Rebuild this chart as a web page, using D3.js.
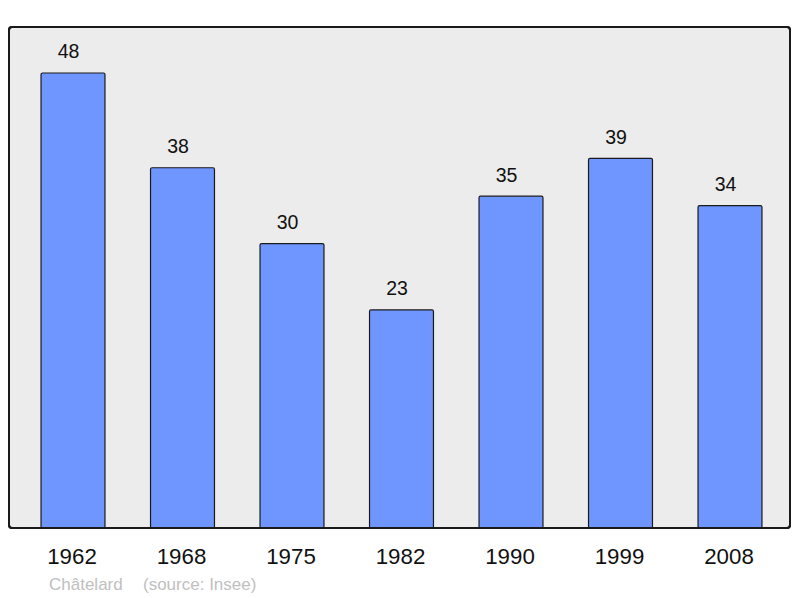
<!DOCTYPE html>
<html><head><meta charset="utf-8">
<script src="https://cdn.jsdelivr.net/npm/d3@7"></script>
<style>body{margin:0;background:#fff}svg{display:block}</style>
</head><body>
<script>
const years = ["1962","1968","1975","1982","1990","1999","2008"];
const population = [48,38,30,23,35,39,34];
const townName = "Châtelard";
const sourceText = "(source: Insee)";

const W = 800, H = 598;
const svg = d3.select("body").append("svg").attr("width", W).attr("height", H);
const FONT = "Liberation Sans, Arial, sans-serif";

const panel = {x: 9, y: 27, w: 781, h: 501};
svg.append("rect").attr("x", panel.x).attr("y", panel.y).attr("width", panel.w).attr("height", panel.h)
  .attr("rx", 3).attr("fill", "#ececec").attr("stroke", "#1a1a1a").attr("stroke-width", 2);

const x = d3.scaleBand().domain(years).range([18.25, 784.75]).paddingInner(0.416).paddingOuter(0.208);
const y = d3.scaleLinear().domain([0, 52.85]).range([528, 27]);

const data = years.map((yr, i) => ({yr, v: population[i]}));

svg.selectAll("rect.bar").data(data).enter().append("rect").attr("class", "bar")
  .attr("x", d => x(d.yr)).attr("y", d => y(d.v))
  .attr("width", x.bandwidth()).attr("height", d => y(0) - y(d.v))
  .attr("rx", 1.5)
  .attr("fill", "#6f96ff").attr("stroke", "#1a1a1a").attr("stroke-width", 1.2);

svg.selectAll("text.val").data(data).enter().append("text").attr("class", "val")
  .attr("x", d => x(d.yr) + x.bandwidth() / 2 - 4.5).attr("y", d => y(d.v) - 14.5)
  .attr("text-anchor", "middle").attr("font-family", FONT)
  .attr("font-size", 19.5).attr("fill", "#111").text(d => d.v);

svg.append("rect").attr("x", panel.x).attr("y", panel.y).attr("width", panel.w).attr("height", panel.h)
  .attr("rx", 3).attr("fill", "none").attr("stroke", "#1a1a1a").attr("stroke-width", 2);

const xAxis = d3.axisBottom(x).tickSize(0).tickPadding(0);
const gx = svg.append("g").attr("transform", "translate(0,528)").call(xAxis);
gx.select(".domain").remove();
gx.selectAll("text").attr("dy", null).attr("y", 36.3).attr("x", -1)
  .attr("font-family", FONT).attr("font-size", 22.3).attr("fill", "#111");

svg.append("text").attr("x", 49).attr("y", 590)
  .attr("font-family", FONT).attr("font-size", 17).attr("fill", "#c0c0c0")
  .text(townName);
svg.append("text").attr("x", 143).attr("y", 590)
  .attr("font-family", FONT).attr("font-size", 17).attr("fill", "#c0c0c0")
  .text(sourceText);
</script>
</body></html>
